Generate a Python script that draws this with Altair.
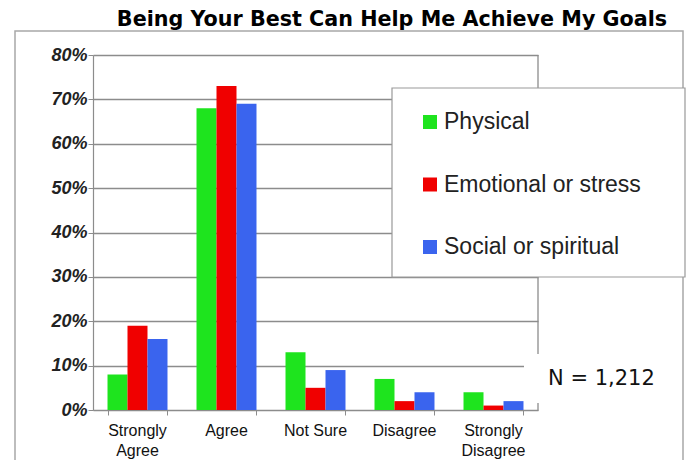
import altair as alt
import pandas as pd

categories = ["Strongly Agree", "Agree", "Not Sure", "Disagree", "Strongly Disagree"]
x_labels = ["Strongly\nAgree", "Agree", "Not Sure", "Disagree", "Strongly\nDisagree"]
series = ["Physical", "Emotional or stress", "Social or spiritual"]
physical = [8, 68, 13, 7, 4]
emotional = [19, 73, 5, 2, 1]
social = [16, 69, 9, 4, 2]
colors = ["#1ee41e", "#f00000", "#3a64ee"]
y_ticks = [0, 10, 20, 30, 40, 50, 60, 70, 80]
title_text = "Being Your Best Can Help Me Achieve My Goals"
note_text = "N = 1,212"

rows = []
for s, vals in zip(series, [physical, emotional, social]):
    for c, v in zip(categories, vals):
        rows.append({"category": c, "series": s, "value": v})
df = pd.DataFrame(rows)
labels_df = pd.DataFrame({"category": categories, "label": x_labels})
legend_df = pd.DataFrame({"series": series})
one = pd.DataFrame({"t": [title_text], "n": [note_text]})

W, H = 445, 355
GRAY = "#8c8c8c"

x_enc = alt.X(
    "category:N",
    sort=categories,
    scale=alt.Scale(paddingInner=0.326, paddingOuter=0.163),
    axis=alt.Axis(
        title=None,
        orient="bottom",
        labels=False,
        tickBand="extent",
        tickSize=5,
        tickColor=GRAY,
        domainColor=GRAY,
        domainWidth=1.2,
        grid=False,
    ),
)

color_scale = alt.Scale(domain=series, range=colors)

bars = alt.Chart(df).mark_bar().encode(
    x=x_enc,
    xOffset=alt.XOffset("series:N", sort=series, scale=alt.Scale(paddingInner=0, paddingOuter=0)),
    y=alt.Y(
        "value:Q",
        scale=alt.Scale(domain=[0, 80], nice=False),
        axis=alt.Axis(
            title=None,
            orient="left",
            values=y_ticks,
            labelExpr="datum.value + '%'",
            grid=True,
            gridColor=GRAY,
            gridWidth=1.3,
            tickColor=GRAY,
            tickSize=5,
            domainColor=GRAY,
            domainWidth=1.2,
            labelFont="Liberation Sans",
            labelFontSize=18,
            labelFontStyle="italic",
            labelFontWeight="bold",
            labelColor="#222222",
            labelPadding=1,
        ),
    ),
    color=alt.Color("series:N", sort=series, scale=color_scale, legend=None),
)

x_text = alt.Chart(labels_df).mark_text(
    font="Liberation Sans", fontSize=16, lineHeight=20, lineBreak="\n",
    baseline="top", align="center", color="#111111",
).encode(
    x=alt.X("category:N", sort=categories),
    y=alt.value(H + 13),
    text="label:N",
)

frame = alt.Chart(one).mark_rect(fill="white", fillOpacity=0, stroke="#a8a8a8", strokeWidth=1.5).encode(
    x=alt.value(-78), x2=alt.value(590), y=alt.value(-24), y2=alt.value(430)
)

right_border = alt.Chart(one).mark_rule(color=GRAY, strokeWidth=1.3).encode(
    x=alt.value(W), y=alt.value(0), y2=alt.value(H)
)

legend_box = alt.Chart(one).mark_rect(fill="white", stroke="#999999", strokeWidth=1.2).encode(
    x=alt.value(299), x2=alt.value(592), y=alt.value(33), y2=alt.value(222)
)

legend_y = alt.Y(
    "series:N",
    sort=series,
    scale=alt.Scale(type="point", domain=series, range=[67, 192], padding=0),
    axis=None,
)

legend_sym = alt.Chart(legend_df).mark_square(size=196, opacity=1).encode(
    x=alt.value(337),
    y=legend_y,
    color=alt.Color("series:N", sort=series, scale=color_scale, legend=None),
)

legend_txt = alt.Chart(legend_df).mark_text(
    font="Liberation Sans", fontSize=23, align="left", baseline="middle", color="#222222"
).encode(
    x=alt.value(351),
    y=legend_y,
    text="series:N",
)

note_box = alt.Chart(one).mark_rect(fill="white").encode(
    x=alt.value(431), x2=alt.value(569), y=alt.value(299), y2=alt.value(348)
)

note = alt.Chart(one).mark_text(
    font="DejaVu Sans", fontSize=21, align="left", baseline="middle", color="#111111"
).encode(x=alt.value(455), y=alt.value(324), text="n:N")

title = alt.Chart(one).mark_text(
    font="DejaVu Sans", fontSize=20.7, fontWeight="bold", align="center", baseline="alphabetic", color="#000000"
).encode(x=alt.value(299), y=alt.value(-29), text="t:N")

main = alt.layer(bars, x_text, frame, right_border, legend_box, note_box, note, title)
legend = alt.layer(legend_sym, legend_txt)

chart = alt.layer(main, legend).resolve_scale(y="independent").properties(
    width=W,
    height=H,
    padding={"left": 85, "top": 47, "right": 148, "bottom": 50},
    autosize=alt.AutoSizeParams(type="none"),
    background="white",
).configure_view(stroke=None)

chart.save("out.html", embed_options={"renderer": "svg", "actions": False})
